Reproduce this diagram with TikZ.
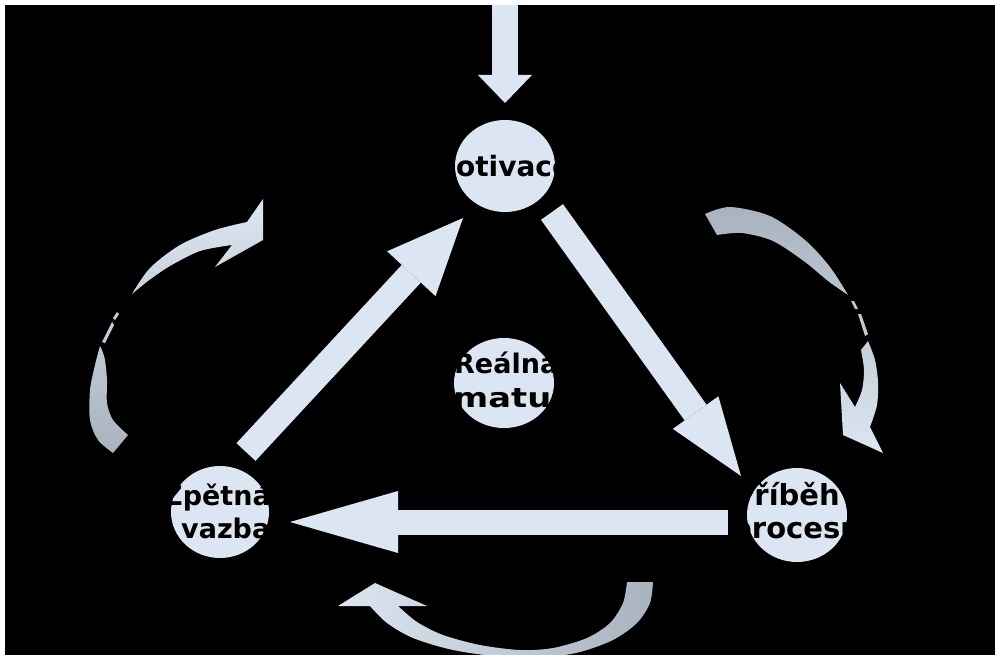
\documentclass[tikz,border=0pt]{standalone}
\usepackage{fontspec}
\newfontfamily\lblfont{DejaVu Sans}
\usetikzlibrary{arrows.meta,shapes.geometric}
\definecolor{pale}{HTML}{DCE6F2}
\definecolor{slate}{HTML}{A9B3BD}
\tikzset{
  bubble/.style={ellipse, fill=pale, inner sep=0pt, minimum width=100pt, minimum height=92pt},
  lbl/.style={anchor=base west, inner sep=0pt, text=black,
    font=\lblfont\bfseries\fontsize{27}{33}\selectfont},
  bigger/.style={font=\lblfont\bfseries\fontsize{#1}{33}\selectfont},
  wide/.style={font=\lblfont\bfseries\fontsize{27}{33}\selectfont\addfontfeatures{FakeStretch=1.25}},
  blockarrow/.style n args={3}{draw=pale, line width=#1, line cap=butt,
    -{Triangle[length=#2, width=#3, line width=0pt, fill=pale]}},
}
\begin{document}
\begin{tikzpicture}[x=1pt, y=-1pt]
\useasboundingbox (0,0) rectangle (995,655);
\fill[white] (0,0) rectangle (995,655);
\fill[black] (5,5) rectangle (995,655);
\begin{scope}
\clip (5,5) rectangle (995,655);

% circles
\node[bubble] (mot) at (505,166) {};
\node[bubble, minimum height=90pt] (real) at (504,383) {};
\node[bubble, minimum width=98pt] (zpet) at (220,512) {};
\node[bubble, minimum height=94pt] (prib) at (797,515) {};

% labels (black type, only readable over the pale discs)
\node[lbl, bigger=28] (mot-t) at (428,177) {Motivace};
\node[lbl] (real-t1) at (454,373) {Reálna};
\node[lbl, wide] (real-t2) at (453,407) {maturita};
\node[lbl] (zpet-t1) at (163,505) {Zpětná};
\node[lbl] (zpet-t2) at (181,538) {vazba};
\node[lbl, bigger=29] (prib-t1) at (733,505) {Příběh};
\node[lbl, bigger=29] (prib-t2) at (731,538) {procesu};

% end points of the straight block arrows
\coordinate (src) at (505,5);
\coordinate (mot-in) at (505,103);
\coordinate (zpet-out) at (246,452);
\coordinate (mot-in2) at (463,218);
\coordinate (mot-out) at (552,212);
\coordinate (prib-in) at (741,476);
\coordinate (prib-out) at (728,522);
\coordinate (zpet-in) at (290,522);

\draw[blockarrow={26pt}{28pt}{54pt}] (src) -- (mot-in);
\draw[blockarrow={26pt}{76pt}{66pt}] (zpet-out) -- (mot-in2);
\draw[blockarrow={27pt}{78pt}{56pt}] (mot-out) -- (prib-in);
\draw[blockarrow={25pt}{108pt}{62pt}] (prib-out) -- (zpet-in);

% curved arrow on the left (broken where black lettering crosses it)
\shade[top color=pale, middle color=pale, bottom color=slate]
  plot[smooth] coordinates {(132,294) (150,268) (180,245) (215,230) (247,222)}
  -- (263,199) -- (263,240) -- (215,267) -- (232,245)
  -- plot[smooth] coordinates {(232,245) (200,251) (170,266) (148,281) (132,294)} -- cycle
  (117,312) -- (119,314) -- (115,320) -- (113,318) -- cycle
  (112,322) -- (114,325) -- (105,343) -- (102,342) -- cycle
  plot[smooth] coordinates {(100,346) (95,365) (90,390) (90,420) (98,440) (113,453)}
  -- (128,435)
  -- plot[smooth] coordinates {(128,435) (113,420) (107,403) (107,380) (105,360) (102,350)} -- cycle;

% curved arrow on the right (broken the same way)
\shade[top color=slate, middle color=slate!40!pale, bottom color=pale]
  plot[smooth] coordinates {(705,214) (730,207) (770,216) (805,240) (830,267) (848,295)}
  -- plot[smooth] coordinates {(848,295) (828,281) (805,262) (773,241) (742,233) (717,235)} -- cycle
  (851,301) -- (854,301) -- (858,309) -- (855,309) -- cycle
  (858,314) -- (861,314) -- (868,334) -- (865,336) -- cycle
  plot[smooth] coordinates {(868,341) (875,360) (878,382) (877,405) (870,427)}
  -- (883,453) -- (843,435) -- (840,383) -- (855,407)
  -- plot[smooth] coordinates {(855,407) (862,390) (864,370) (861,350)} -- cycle;

% curved arrow at the bottom
\shade[left color=pale, middle color=pale, right color=slate]
  plot[smooth] coordinates {(653,582) (650,603) (637,623) (613,640) (580,652) (547,657) (503,657) (453,650) (413,638) (387,623) (370,606)}
  -- (338,606) -- (375,583) -- (427,606) -- (398,606)
  -- plot[smooth] coordinates {(398,606) (417,622) (443,635) (480,645) (520,650) (553,648) (587,638) (610,623) (623,603) (627,582)} -- cycle;
\end{scope}
\end{tikzpicture}
\end{document}
